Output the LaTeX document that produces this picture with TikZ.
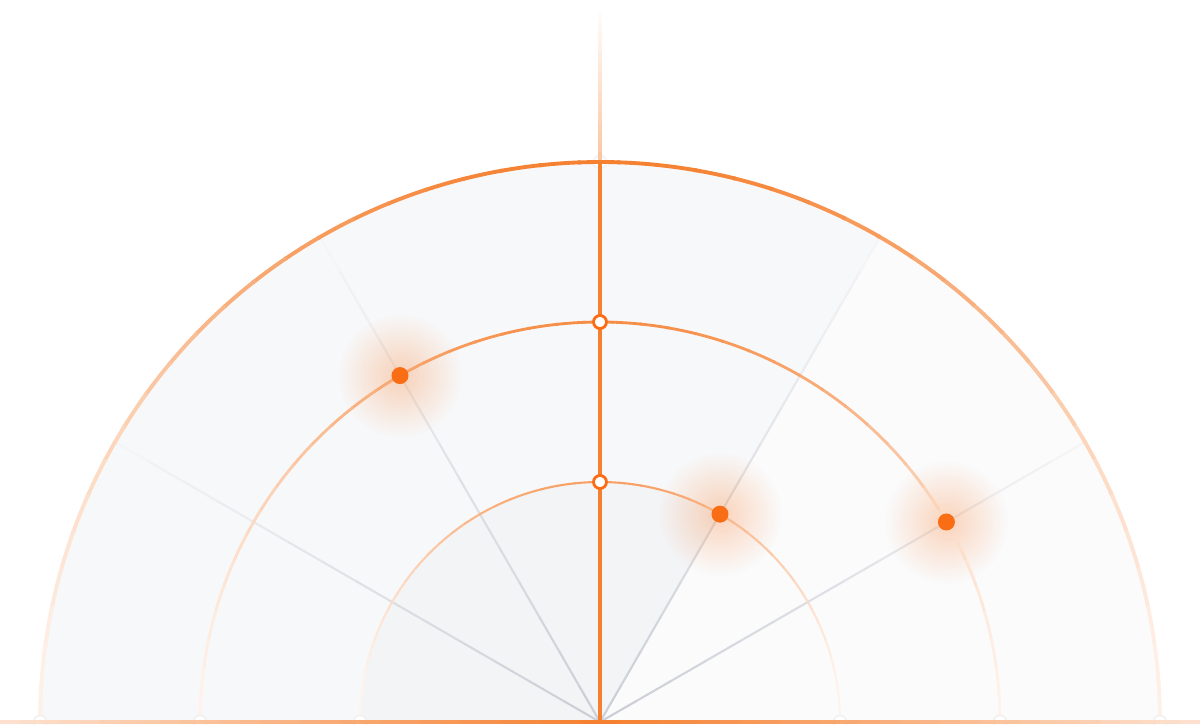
\documentclass[tikz,border=0pt]{standalone}
\usepackage{xcolor}
\usepackage{tikz}
\usetikzlibrary{positioning,fadings}

\definecolor{accent}{RGB}{249,110,20}
\definecolor{arcorange}{RGB}{245,128,48}
\definecolor{spokegray}{RGB}{204,207,214}
\definecolor{fillgray}{RGB}{247,248,249}
\definecolor{fillwhite}{RGB}{251,251,252}
\definecolor{fillinner}{RGB}{243,244,246}
\tikzfading[name=glowfade, inner color=transparent!72, outer color=transparent!100]

\begin{document}
\begin{tikzpicture}[line cap=butt]

\tikzstyle{dot}=[circle, fill=accent, minimum size=0.17cm, inner sep=0pt]
\tikzstyle{ring}=[circle, draw=accent, fill=white, line width=0.8pt, minimum size=0.13cm, inner sep=0pt]
\tikzstyle{knob}=[circle, draw=black!6, fill=white, minimum size=0.13cm, inner sep=0pt]

\useasboundingbox (-6,-0.02) rectangle (6,7.22);
\coordinate (O) at (0,0);
\coordinate (p1) at (120:4.0);
\coordinate (p2) at (60:2.4);
\coordinate (p3) at (30:4.0);

% sectors
\fill[fillgray] (5.6,0) arc (0:180:5.6) -- cycle;
\fill[fillwhite] (O) -- (0:5.6) arc (0:60:5.6) -- cycle;
\fill[fillinner] (O) -- (60:2.4) arc (60:180:2.4) -- cycle;

% spokes
\foreach \a in {30,60,120,150} {
  \foreach \s in {0,...,13} {
    \pgfmathtruncatemacro\p{100-6*\s}
    \draw[line width=0.6pt, spokegray!\p!white] (\a:{0.4*\s}) -- (\a:{0.4*\s+0.42});
  }
}

% glows
\foreach \c in {p1,p2,p3}
  \fill[accent, path fading=glowfade] (\c) circle (0.62);

\node[knob] (K_0) at (0,5.6) {};

% center line
\draw[line width=0.9pt, arcorange] (O) -- (0,5.6);
\foreach \s in {0,...,14} {
  \pgfmathtruncatemacro\p{45-3*\s}
  \draw[line width=0.9pt, arcorange!\p!white] (0,5.6+0.1*\s) -- (0,5.71+0.1*\s);
}

% rings of the chart
\foreach \r/\w/\m in {5.6/1.1/100, 4.0/0.8/90, 2.4/0.6/75} {
  \foreach \a in {0,4,...,176} {
    \pgfmathtruncatemacro\p{\m*(0.12+0.88*pow(sin(\a+2),2))}
    \draw[line width=\w pt, arcorange!\p!white] (\a:\r) arc (\a:\a+4.3:\r);
  }
}

\foreach \r [count=\i] in {-5.6,-4,-2.4,2.4,4,5.6}
  \node[knob] (K_\i) at (\r,0) {};

% base line
\foreach \s in {0,...,29} {
  \pgfmathtruncatemacro\p{100-2.6*\s}
  \draw[line width=1pt, arcorange!\p!white] (0.2*\s,0) -- (0.2*\s+0.21,0);
  \draw[line width=1pt, arcorange!\p!white] (-0.2*\s,0) -- (-0.2*\s-0.21,0);
}

\node[ring] (R_1) at (90:4.0) {};
\node[ring] (R_2) at (90:2.4) {};
\node[dot] (P_1) at (p1) {};
\node[dot] (P_2) at (p2) {};
\node[dot] (P_3) at (p3) {};

\end{tikzpicture}
\end{document}
